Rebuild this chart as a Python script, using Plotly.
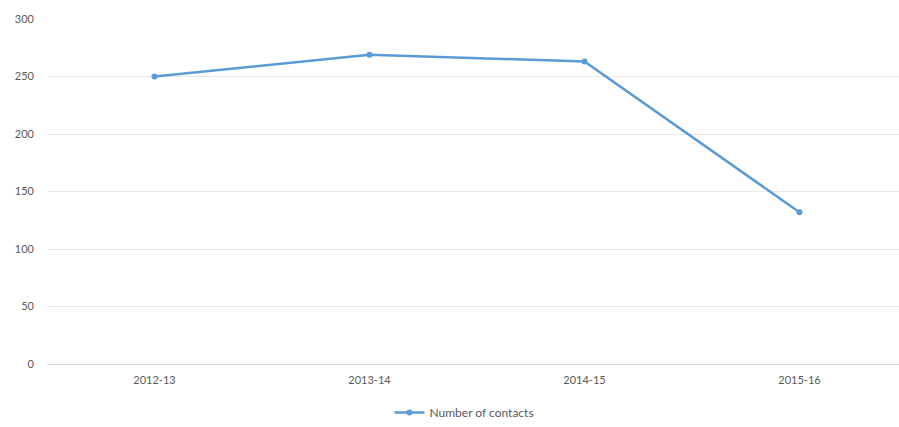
import plotly.graph_objects as go

categories = ["2012-13", "2013-14", "2014-15", "2015-16"]
contacts = [250, 269, 263, 132]
y_ticks = [0, 50, 100, 150, 200, 250, 300]

fig = go.Figure()
fig.add_trace(go.Scatter(
    x=categories, y=contacts, mode="lines+markers",
    name="Number of contacts",
    line=dict(color="#5B9BD5", width=2.5),
    marker=dict(color="#5B9BD5", size=6),
))

fig.update_layout(
    width=899, height=427,
    margin=dict(l=47, r=0, t=19, b=62),
    paper_bgcolor="white", plot_bgcolor="white",
    font=dict(family="Lato", size=11, color="#595959"),
    showlegend=True,
    legend=dict(orientation="h", x=0.49, xanchor="center", y=-0.139, yanchor="middle",
                font=dict(size=12, color="#595959")),
    xaxis=dict(type="category", range=[-0.5, 3.463], showgrid=False, showline=False,
               zeroline=False, ticks="", ticklabelstandoff=8),
    yaxis=dict(range=[0, 300], tickvals=y_ticks, showgrid=True, gridcolor="#E9E9E9",
               gridwidth=1, zeroline=True, zerolinecolor="#D9D9D9", zerolinewidth=1,
               showline=False, ticks="", ticklabelstandoff=12),
)

fig.write_html("out.html")
